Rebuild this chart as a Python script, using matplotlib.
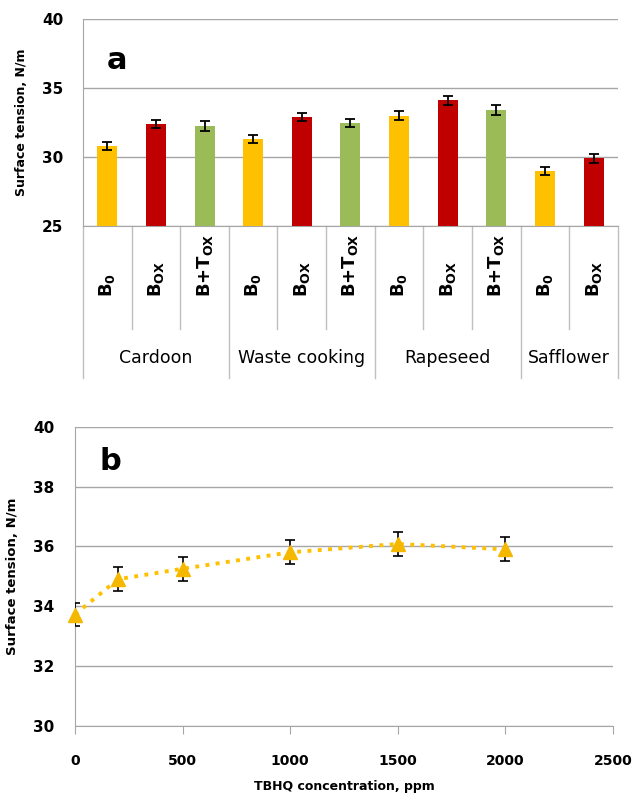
import matplotlib
matplotlib.use("Agg")
import matplotlib.pyplot as plt

plt.rcParams["font.family"] = "DejaVu Sans"
plt.rcParams["mathtext.default"] = "regular"

# panel a: surface tension per biodiesel / sample
GROUPS = ["Cardoon", "Waste cooking", "Rapeseed", "Safflower"]
GROUP_SIZES = [3, 3, 3, 2]
SAMPLES = ["B0", "BOX", "B+TOX", "B0", "BOX", "B+TOX", "B0", "BOX", "B+TOX", "B0", "BOX"]
TENSION = [30.8, 32.4, 32.25, 31.3, 32.9, 32.45, 33.0, 34.1, 33.4, 29.0, 29.9]
TENSION_ERR = [0.3, 0.3, 0.35, 0.3, 0.3, 0.3, 0.35, 0.3, 0.35, 0.3, 0.3]

# panel b: TBHQ concentration series
TBHQ = [0, 200, 500, 1000, 1500, 2000]
TBHQ_TENSION = [33.72, 34.9, 35.25, 35.8, 36.08, 35.9]
TBHQ_ERR = [0.4, 0.4, 0.4, 0.4, 0.4, 0.4]

COLORS = {"B0": "#FFC000", "BOX": "#C00000", "B+TOX": "#9BBB59"}
LABELS = {"B0": r"B$_0$", "BOX": r"B$_{OX}$", "B+TOX": r"B+T$_{OX}$"}
GRID = "#A6A6A6"
LINE = "#BFBFBF"

fig = plt.figure(figsize=(6.35, 7.99), dpi=100)

# ---- panel a
ax = fig.add_axes([0.1307, 0.7171, 0.8423, 0.2591])
xs = list(range(len(SAMPLES)))
ax.bar(xs, TENSION, width=0.41, color=[COLORS[s] for s in SAMPLES], zorder=3)
ax.errorbar(xs, TENSION, yerr=TENSION_ERR, fmt="none", ecolor="black",
            elinewidth=1.3, capsize=3.5, capthick=1.3, zorder=4)
ax.set_ylim(25, 40)
ax.set_xlim(-0.5, len(SAMPLES) - 0.5)
ax.set_yticks([25, 30, 35, 40])
ax.yaxis.grid(True, color=GRID, lw=1.0)
ax.set_axisbelow(True)
ax.set_xticks([])
ax.tick_params(axis="y", length=0, pad=14, labelsize=11)
for t in ax.get_yticklabels():
    t.set_fontweight("bold")
for s in ("top", "right"):
    ax.spines[s].set_visible(False)
for s in ("left", "bottom"):
    ax.spines[s].set_color(GRID)
ax.set_ylabel("Surface tension, N/m", fontsize=9, fontweight="bold", labelpad=10)
ax.text(0.045, 0.80, "a", transform=ax.transAxes, fontsize=22, fontweight="bold",
        ha="left", va="center")

# category axis below panel a
tr = ax.get_xaxis_transform()
for x, s in zip(xs, SAMPLES):
    ax.text(x, -0.343, LABELS[s], transform=tr, rotation=90, ha="center",
            va="bottom", fontsize=13, fontweight="bold")
start = 0
edges = [-0.5]
for g, n in zip(GROUPS, GROUP_SIZES):
    mid = start + (n - 1) / 2.0
    ax.text(mid, -0.638, g, transform=tr, ha="center", va="center", fontsize=12.5)
    for k in range(1, n):
        ax.plot([start + k - 0.5] * 2, [0, -0.4976], transform=tr, color=LINE,
                lw=1.0, clip_on=False)
    start += n
    edges.append(start - 0.5)
for e in edges:
    ax.plot([e, e], [0, -0.734], transform=tr, color=LINE, lw=1.0, clip_on=False)

# ---- panel b
bx = fig.add_axes([0.118, 0.0917, 0.8474, 0.3742])
bx.plot(TBHQ, TBHQ_TENSION, ls=":", lw=2.8, color="#FFC000", zorder=3)
bx.errorbar(TBHQ, TBHQ_TENSION, yerr=TBHQ_ERR, fmt="none", ecolor="black",
            elinewidth=1.2, capsize=3.5, capthick=1.2, zorder=4)
bx.plot(TBHQ, TBHQ_TENSION, ls="none", marker="^", ms=10, color="#F5B800",
        zorder=5, clip_on=False)
bx.set_xlim(0, 2500)
bx.set_ylim(30, 40)
bx.set_xticks([0, 500, 1000, 1500, 2000, 2500])
bx.set_yticks([30, 32, 34, 36, 38, 40])
bx.yaxis.grid(True, color=GRID, lw=1.0)
bx.set_axisbelow(True)
bx.tick_params(axis="y", length=0, pad=15, labelsize=11)
bx.tick_params(axis="x", length=6, direction="out", color=GRID, pad=14, labelsize=10)
for t in bx.get_xticklabels() + bx.get_yticklabels():
    t.set_fontweight("bold")
for s in ("top", "right"):
    bx.spines[s].set_visible(False)
for s in ("left", "bottom"):
    bx.spines[s].set_color(GRID)
bx.set_ylabel("Surface tension, N/m", fontsize=9.5, fontweight="bold", labelpad=10)
bx.set_xlabel("TBHQ concentration, ppm", fontsize=9, fontweight="bold", labelpad=9)
bx.text(0.045, 0.885, "b", transform=bx.transAxes, fontsize=22, fontweight="bold",
        ha="left", va="center")

fig.savefig("out.png", dpi=100)
